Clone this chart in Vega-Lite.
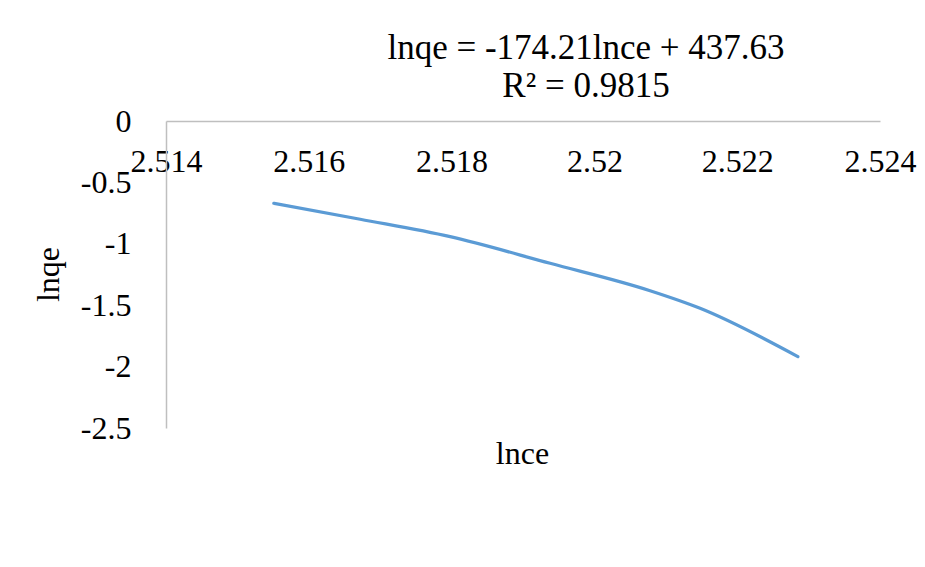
{
  "$schema": "https://vega.github.io/schema/vega-lite/v6.json",
  "autosize": "none",
  "width": 714,
  "height": 307,
  "padding": {"left": 166, "top": 121, "right": 45, "bottom": 139},
  "background": "white",
  "config": {
    "view": {"stroke": null},
    "font": "Liberation Serif"
  },
  "title": {
    "text": ["lnqe = -174.21lnce + 437.63", "R² = 0.9815"],
    "frame": "group",
    "anchor": "middle",
    "dx": 63,
    "offset": 1,
    "font": "Liberation Serif",
    "fontSize": 35,
    "fontWeight": "normal",
    "lineHeight": 38,
    "color": "#000000"
  },
  "data": {
    "values": [
      {"lnce": 2.51551, "lnqe": -0.670},
      {"lnce": 2.51672, "lnqe": -0.800},
      {"lnce": 2.51798, "lnqe": -0.942},
      {"lnce": 2.51938, "lnqe": -1.159},
      {"lnce": 2.52078, "lnqe": -1.382},
      {"lnce": 2.52148, "lnqe": -1.525},
      {"lnce": 2.52285, "lnqe": -1.919}
    ]
  },
  "mark": {"type": "line", "interpolate": "monotone", "color": "#5B9BD5", "strokeWidth": 3.2, "strokeCap": "round"},
  "encoding": {
    "x": {
      "field": "lnce",
      "type": "quantitative",
      "scale": {"domain": [2.514, 2.524], "nice": false, "zero": false},
      "axis": {
        "orient": "bottom",
        "offset": -307,
        "values": [2.514, 2.516, 2.518, 2.52, 2.522, 2.524],
        "labelExpr": "'' + datum.value",
        "grid": false,
        "ticks": false,
        "tickSize": 0,
        "domainColor": "#BFBFBF",
        "domainWidth": 1.5,
        "labelFont": "Liberation Serif",
        "labelFontSize": 32,
        "labelColor": "#000000",
        "labelPadding": 25,
        "labelFlush": false,
        "labelOverlap": false,
        "title": "lnce",
        "titleFont": "Liberation Serif",
        "titleFontSize": 32,
        "titleFontWeight": "normal",
        "titleColor": "#000000",
        "titleX": 356,
        "titleY": 332,
        "titleBaseline": "middle",
        "titleAnchor": "middle"
      }
    },
    "y": {
      "field": "lnqe",
      "type": "quantitative",
      "scale": {"domain": [-2.5, 0], "nice": false, "zero": false},
      "axis": {
        "values": [0, -0.5, -1, -1.5, -2, -2.5],
        "labelExpr": "'' + datum.value",
        "grid": false,
        "ticks": false,
        "tickSize": 0,
        "domainColor": "#BFBFBF",
        "domainWidth": 1.5,
        "labelFont": "Liberation Serif",
        "labelFontSize": 32,
        "labelColor": "#000000",
        "labelPadding": 35,
        "labelBaseline": "middle",
        "labelOverlap": false,
        "labelFlush": false,
        "title": "lnqe",
        "titleFont": "Liberation Serif",
        "titleFontSize": 32,
        "titleFontWeight": "normal",
        "titleColor": "#000000",
        "titleX": -118,
        "titleY": 153,
        "titleAngle": 270,
        "titleBaseline": "middle",
        "titleAnchor": "middle"
      }
    }
  }
}
